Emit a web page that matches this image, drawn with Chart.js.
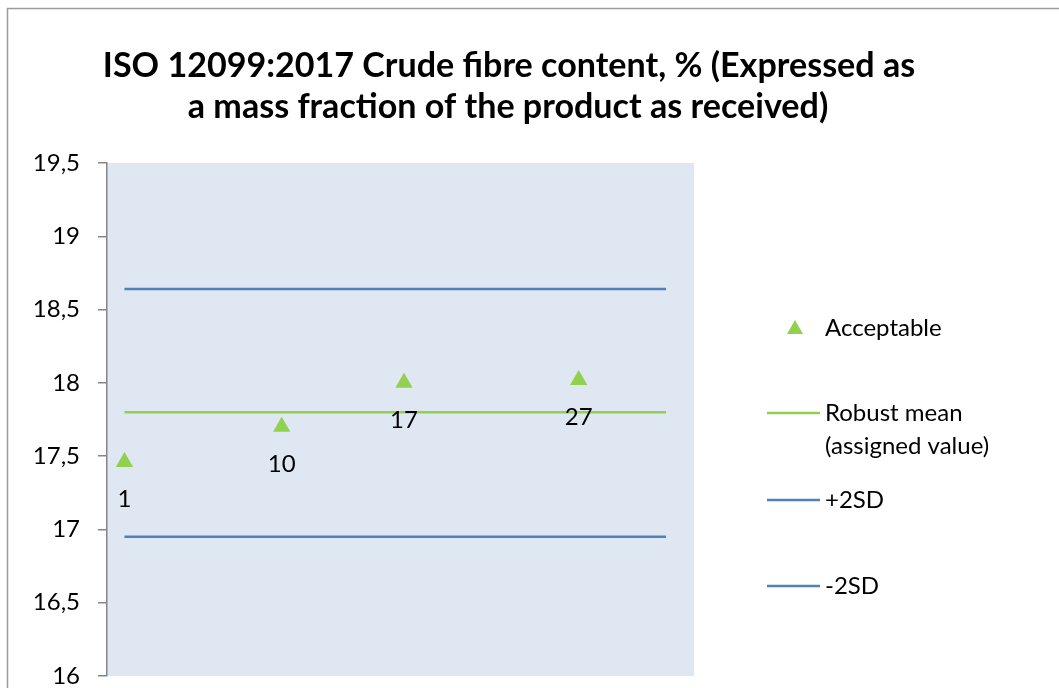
<!DOCTYPE html>
<html>
<head>
<meta charset="utf-8">
<script src="https://cdn.jsdelivr.net/npm/chart.js@4"></script>
<style>
  html, body { margin: 0; padding: 0; background: #fff; }
  #wrap { width: 1059px; height: 688px; }
</style>
</head>
<body>
<div id="wrap"><canvas id="ptChart" width="1059" height="688"></canvas></div>
<script>
// Data
const labIds = [1, 10, 17, 27];
const results = [17.46, 17.70, 18.00, 18.02];
const lineSpan = [1, 32];
const robustMean = [17.80, 17.80];
const plus2SD = [18.64, 18.64];
const minus2SD = [16.95, 16.95];
const yTicks = [16, 16.5, 17, 17.5, 18, 18.5, 19, 19.5];
const titleLines = ['ISO 12099:2017 Crude fibre content, % (Expressed as', 'a mass fraction of the product as received)'];
const legendLabels = ['Acceptable', ['Robust mean', '(assigned value)'], ['+2SD'], ['-2SD']];

const FONT = 'Lato, "Open Sans", sans-serif';
const GREEN = '#92d050';
const BLUE = '#4f81bd';

const toPts = (xs, ys) => xs.map((x, i) => ({ x: x, y: ys[i] }));

// plot background, outer frame, title
const decorPlugin = {
  id: 'decor',
  beforeDraw(chart) {
    const { ctx, chartArea: a } = chart;
    ctx.save();
    ctx.fillStyle = '#fff';
    ctx.fillRect(0, 0, chart.width, chart.height);
    ctx.strokeStyle = '#9a9a9a';
    ctx.lineWidth = 1.5;
    ctx.strokeRect(7.5, 8.5, 1100, 800);
    ctx.fillStyle = '#dfe7f2';
    ctx.fillRect(a.left, a.top, a.right - a.left, a.bottom - a.top);

    ctx.fillStyle = '#000';
    ctx.textAlign = 'center';
    ctx.textBaseline = 'middle';
    ctx.font = 'bold 30px ' + FONT;
    const w = ctx.measureText(titleLines[0]).width;
    const size = 30 * 812 / w;
    ctx.font = 'bold ' + size.toFixed(1) + 'px ' + FONT;
    ctx.fillText(titleLines[0], 509, 66);
    ctx.fillText(titleLines[1], 508, 107);
    ctx.restore();
  }
};

// lab number under each point + legend on the right
const labelPlugin = {
  id: 'labels',
  afterDatasetsDraw(chart) {
    const { ctx } = chart;
    const meta = chart.getDatasetMeta(0);
    ctx.save();
    ctx.fillStyle = '#000';
    ctx.font = '24px ' + FONT;
    ctx.textAlign = 'center';
    ctx.textBaseline = 'middle';
    meta.data.forEach((pt, i) => {
      ctx.fillText(String(labIds[i]), pt.x, pt.y + 37);
    });

    // legend
    ctx.textAlign = 'left';
    ctx.fillStyle = GREEN;
    ctx.beginPath();
    ctx.moveTo(795, 320);
    ctx.lineTo(803, 334);
    ctx.lineTo(787, 334);
    ctx.closePath();
    ctx.fill();
    ctx.fillStyle = '#000';
    ctx.fillText(legendLabels[0], 825, 328);

    const rows = [
      { y: 413, color: GREEN, text: legendLabels[1] },
      { y: 500, color: BLUE, text: legendLabels[2] },
      { y: 586, color: BLUE, text: legendLabels[3] }
    ];
    rows.forEach(r => {
      ctx.strokeStyle = r.color;
      ctx.lineWidth = 2.5;
      ctx.beginPath();
      ctx.moveTo(767, r.y);
      ctx.lineTo(820, r.y);
      ctx.stroke();
      r.text.forEach((t, k) => ctx.fillText(t, 825, r.y + k * 33));
    });
    ctx.restore();
  }
};

new Chart(document.getElementById('ptChart').getContext('2d'), {
  type: 'scatter',
  data: {
    datasets: [
      {
        label: 'Acceptable',
        data: toPts(labIds, results),
        pointStyle: 'triangle',
        pointRadius: 10,
        backgroundColor: GREEN,
        borderColor: GREEN,
        borderWidth: 0,
        order: 0
      },
      {
        label: 'Robust mean (assigned value)',
        type: 'line',
        data: toPts(lineSpan, robustMean),
        borderColor: GREEN,
        borderWidth: 2.5,
        pointRadius: 0,
        order: 1
      },
      {
        label: '+2SD',
        type: 'line',
        data: toPts(lineSpan, plus2SD),
        borderColor: BLUE,
        borderWidth: 2.5,
        pointRadius: 0,
        order: 1
      },
      {
        label: '-2SD',
        type: 'line',
        data: toPts(lineSpan, minus2SD),
        borderColor: BLUE,
        borderWidth: 2.5,
        pointRadius: 0,
        order: 1
      }
    ]
  },
  options: {
    responsive: false,
    animation: false,
    layout: { padding: { left: 0, top: 163, right: 365, bottom: 12 } },
    plugins: {
      legend: { display: false },
      title: { display: false },
      tooltip: { enabled: false }
    },
    scales: {
      x: {
        type: 'linear',
        display: false,
        min: 0,
        max: 33.6
      },
      y: {
        min: 16,
        max: 19.5,
        afterFit: scale => {
          scale.width = 107;
          scale.paddingTop = 0;
          scale.paddingBottom = 0;
        },
        afterBuildTicks: scale => { scale.ticks = yTicks.map(v => ({ value: v })); },
        grid: {
          display: true,
          drawOnChartArea: false,
          drawTicks: true,
          tickLength: 9,
          color: '#868686',
          lineWidth: 1.5
        },
        border: { display: true, color: '#868686', width: 1.5 },
        ticks: {
          padding: 18,
          color: '#000',
          font: { family: FONT, size: 24 },
          callback: v => String(v).replace('.', ',')
        }
      }
    }
  },
  plugins: [decorPlugin, labelPlugin]
});
</script>
</body>
</html>
